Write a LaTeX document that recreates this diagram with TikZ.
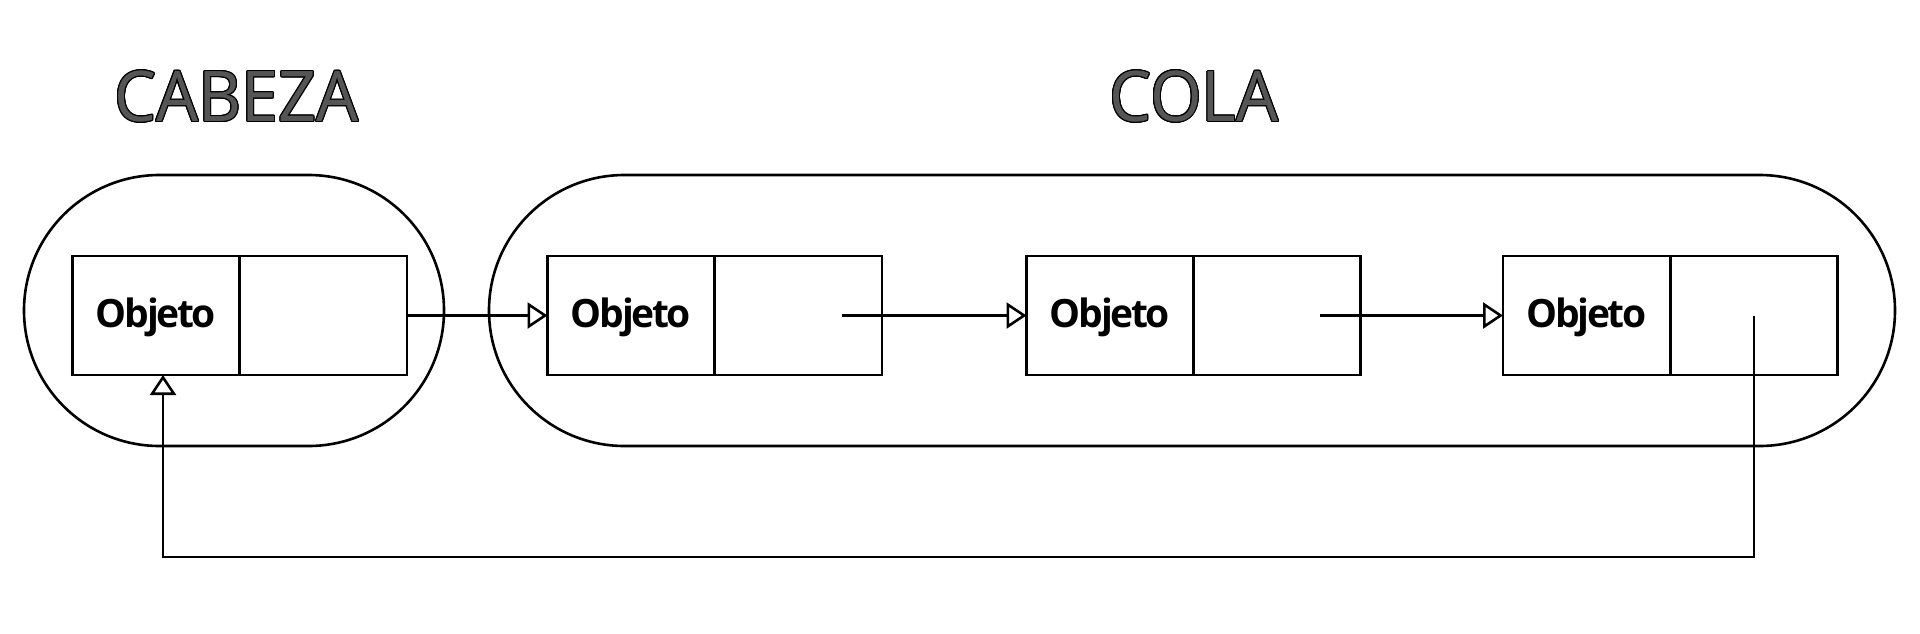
\documentclass[tikz,border=0pt]{standalone}
\usepackage{fontspec}
\setmainfont{Open Sans}
\usepackage{contour}
\contourlength{1.1pt}
\usetikzlibrary{arrows.meta,shapes.misc}
\definecolor{titlegray}{RGB}{85,85,85}
\tikzset{
  every node/.style={inner sep=0pt, outer sep=0pt},
  cell/.style={draw, line width=2.6pt, minimum width=167pt, minimum height=119pt,
    font=\fontsize{39}{39}\selectfont\bfseries\addfontfeatures{LetterSpace=-6},
    text height=30pt, text depth=7pt, fill=white},
  stadium/.style={draw, line width=2.6pt, rounded rectangle},
  titletext/.style={font=\fontsize{70}{70}\selectfont, transform shape, xscale=0.95, text=titlegray},
  conn/.style={line width=2.6pt, -{Triangle[open, length=20pt, width=26pt, fill=white]}},
}
\begin{document}
\begin{tikzpicture}[x=1pt, y=-1pt]
\useasboundingbox (0,0) rectangle (1920,633);
% containers
\node[stadium, minimum width=420pt, minimum height=271pt] (head) at (234,310.5) {};
\node[stadium, minimum width=1406pt, minimum height=271pt] (tail) at (1192,310.5) {};
% titles
\node[titletext] (thead) at (236.5,97) {\contour{black}{CABEZA}};
\node[titletext] (ttail) at (1194,97) {\contour{black}{COLA}};
% list nodes
\node[cell] (obj1) at (156,315.5) {Objeto};
\node[cell] (ptr1) at (323.5,315.5) {};
\node[cell] (obj2) at (631,315.5) {Objeto};
\node[cell] (ptr2) at (798.5,315.5) {};
\node[cell] (obj3) at (1110,315.5) {Objeto};
\node[cell] (ptr3) at (1277,315.5) {};
\node[cell] (obj4) at (1586.5,315.5) {Objeto};
\node[cell] (ptr4) at (1754,315.5) {};
% connector start points
\coordinate (s2) at ([xshift=43pt]ptr2.center);
\coordinate (s3) at ([xshift=43pt]ptr3.center);
\coordinate (ret) at ([xshift=7pt]obj1.south);
\coordinate (low) at (1754,557);
% connectors
\draw[conn] (ptr1.east) -- (obj2.west);
\draw[conn] (s2) -- (obj3.west);
\draw[conn] (s3) -- (obj4.west);
\draw[conn] (ptr4.center) -- (low) -| (ret);
\end{tikzpicture}
\end{document}
